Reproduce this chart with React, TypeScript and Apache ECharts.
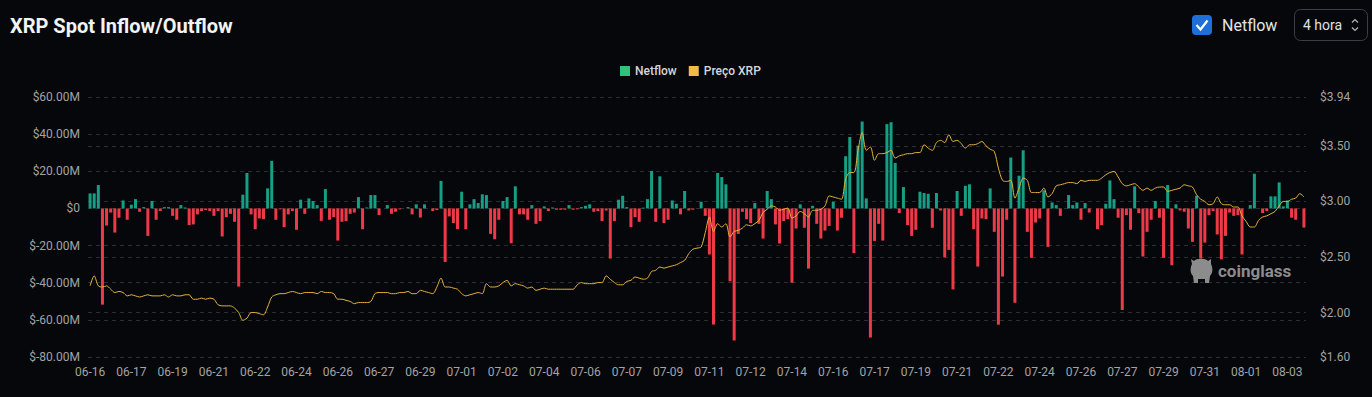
import React, { useEffect, useRef } from 'react';
import * as echarts from 'echarts';

// ---- categories: 4-hour candles from 06-16 00:00 ----
const START_UTC = Date.UTC(2025, 5, 16, 0, 0);
const STEP_HOURS = 4;
const BAR_COUNT = 295;
function makeCategories(): string[] {
  const out: string[] = [];
  for (let i = 0; i < BAR_COUNT; i++) {
    const d = new Date(START_UTC + i * STEP_HOURS * 3600 * 1000);
    const mm = String(d.getUTCMonth() + 1).padStart(2, '0');
    const dd = String(d.getUTCDate()).padStart(2, '0');
    out.push(`${mm}-${dd}`);
  }
  return out;
}
const categories = makeCategories();

// ---- Netflow (USD millions) ----
const netflowPart1 = [
  8.1, 8.1, 12.6, -51.8, -9.2, -2.2, -13, -5, 4.3, -6.1,
  2, 5, -1.8, 0.7, -14.8, 4, -6.1, -1.4, 0.7, 0.7,
  -4, -6.1, 1.8, 0.5, -9, -8.6, -3.2, -1.4, -0.9, -1.4,
  -4, -1.4, -15.1, -4.7, -2.9, -7.2, -42.1, 7.4, 19.1, -3.2,
  -11.2, -5.4, -5.8, 10.8, 25.6, -6.1, -0.5, -10.1, -3.2, -1.4,
  -11.5, 4.7, -2.9, 5.4, 4, 1.8, -6.7, 10.4, -6.1, -4.7,
  -17.3, -7.2, -6.8, -2.9, -2.2, 6.1, -11.2, 0.5, 7.2, 7.2,
  -3.6, 0, 1.8, -2.9, -1.8,
];
const netflowPart2 = [
  -0.5, 0, 0.7, -3.2, 2.2, -4.9, 2.2, 0, -1.4, -0.9,
  14.8, -28.8, -4.3, -7.9, -11.2, 9, -11.2, 2.2, 5, 2.9,
  7.6, 7.2, -13.7, -16.6, -6.1, 4, 6.1, -18.7, 11.9, -3.2,
  -3.2, -6.1, 1.8, -8.3, -6.8, 1.1, -1.4, 0.5, -0.7, -0.7,
  -0.7, 1.8, -0.7, -0.5, 0.7, 1.4, 2.2, -1.8, -1.4, -6.8,
  -1.1, -27, -6.8, 4.7, 6.8, 0.7, -10.1, -4.7, -7.2, 0.4,
  5, 20.2, -7.2, 17.3, -7.9, -6.1, 4.3, 2.5, -3.2, 9.4,
  -1.1, -0.7, 0,
];
const netflowPart3 = [
  3.6, -4, -24.8, -62.5, 19.1, 16.9, 13, -39.2, -71.1, -13.7,
  -1.8, -5.8, -7.9, 2.9, -8.3, -16.2, 9.4, 5, -8.6, -18.9,
  -6.8, -5.8, -40, -10.8, 2.2, -10.4, -32.4, 1.4, -8.3, -16.2,
  -11.9, -9.4, 3.6, -11.9, -5, 28.1, 38.5, -24.1, 33.8, 46.8,
  5.4, -69.5, -17.5, -8.3, -17.3, 45.4, 46.4, 24.5, -2.5, 11.5,
  -9, -14.8, -11.5, 9, 8.3, 7.9, -10.4, 8.3, -1.1, -26.3,
  -22.3, -43.6, 9.4, -4, 12.2, 13, -11.2, -31.3, -5.4, -5.8,
  10.8, -12.6, -62.6, -36.7, -6.1, 27.4, -50.8, 17.6,
];
const netflowPart4 = [
  31.3, -12.6, -26.6, -7.6, -5.4, 9.7, -20.7, 3.2, 1.8, -4,
  0, 7.2, 1.8, 3.2, -6.1, 2.9, -2.2, 0, -11.2, -9,
  2.5, 15.1, 5, -5, -54.7, -3.6, -11.5, 11.9, -2.5, -25.9,
  -12.6, -6.1, 4, -5, -26.6, 12.6, -30.6, 2.2, -1.1, -1.8,
  -10.8, -18, 6.8, -27, -18.4, -3.6, -1.4, -14, -27.4, -14.8,
  -2.2, -4, -3.6, -24.8, 0, 1.8, 18.7, 0, -2.5, -1.4,
  6.5, 6.5, 14, 1.1, 4.3, -5, -6.1, 0, -10.3,
];
const netflowMillions = [...netflowPart1, ...netflowPart2, ...netflowPart3, ...netflowPart4];

// ---- XRP price (USD) ----
const pricePart1 = [
  2.24, 2.33, 2.24, 2.23, 2.24, 2.21, 2.18, 2.19, 2.18, 2.15,
  2.16, 2.15, 2.14, 2.15, 2.16, 2.15, 2.15, 2.15, 2.16, 2.14,
  2.16, 2.15, 2.15, 2.16, 2.16, 2.12, 2.12, 2.13, 2.12, 2.13,
  2.12, 2.07, 2.06, 2.06, 2.06, 2.04, 2.00, 1.93, 1.95, 2.00,
  2.00, 1.99, 1.98, 2.05, 2.14, 2.16, 2.17, 2.17, 2.18, 2.19,
  2.18, 2.17, 2.18, 2.18, 2.18, 2.17, 2.19, 2.18, 2.18, 2.17,
  2.12, 2.12, 2.11, 2.10, 2.08, 2.09, 2.09, 2.09, 2.10, 2.17,
  2.18, 2.18, 2.18, 2.17, 2.17, 2.18, 2.18, 2.19, 2.17, 2.17,
  2.20, 2.19, 2.18, 2.17, 2.23, 2.31, 2.23, 2.23, 2.22, 2.21,
  2.17, 2.15, 2.16, 2.17, 2.18, 2.17, 2.26, 2.23, 2.23, 2.24,
];
const pricePart2 = [
  2.27, 2.29, 2.24, 2.26, 2.25, 2.24, 2.22, 2.23, 2.20, 2.21,
  2.22, 2.21, 2.21, 2.21, 2.21, 2.21, 2.21, 2.21, 2.25, 2.27,
  2.26, 2.26, 2.26, 2.27, 2.27, 2.33, 2.30, 2.27, 2.25, 2.25,
  2.28, 2.29, 2.32, 2.31, 2.30, 2.31, 2.37, 2.38, 2.41, 2.40,
  2.41, 2.42, 2.43, 2.45, 2.47, 2.53, 2.57, 2.58, 2.59, 2.72,
  2.86, 2.73, 2.80, 2.77, 2.80, 2.68, 2.73, 2.74, 2.76, 2.79,
  2.78, 2.80, 2.83, 2.90, 2.93, 2.96, 2.95, 2.92, 2.93, 2.94,
  2.85, 2.87, 2.91, 2.89, 2.86, 2.92, 2.92, 2.93, 2.96, 3.05,
  3.04, 3.03, 3.02, 3.20, 3.26, 3.26, 3.46, 3.62, 3.46, 3.49,
  3.37, 3.43, 3.43, 3.44, 3.46, 3.39, 3.41, 3.42, 3.43, 3.43,
];
const pricePart3 = [
  3.44, 3.44, 3.51, 3.48, 3.46, 3.53, 3.55, 3.53, 3.60, 3.54,
  3.55, 3.52, 3.48, 3.51, 3.51, 3.52, 3.54, 3.50, 3.47, 3.45,
  3.30, 3.19, 3.18, 3.19, 3.03, 3.12, 3.21, 3.19, 3.08, 3.08,
  3.08, 3.12, 3.04, 3.07, 3.14, 3.15, 3.16, 3.17, 3.17, 3.16,
  3.19, 3.18, 3.19, 3.19, 3.19, 3.21, 3.24, 3.26, 3.27, 3.22,
  3.16, 3.14, 3.15, 3.16, 3.13, 3.10, 3.12, 3.10, 3.12, 3.13,
  3.13, 3.09, 3.10, 3.11, 3.12, 3.15, 3.14, 3.13, 3.06, 3.02,
  3.00, 2.97, 2.98, 3.04, 2.98, 2.97, 2.97, 2.95, 2.95, 2.87,
  2.82, 2.77, 2.77, 2.83, 2.86, 2.87, 2.89, 2.91, 2.96, 3.00,
  3.00, 3.02, 3.03, 3.07, 3.04,
];
const priceXrp = [...pricePart1, ...pricePart2, ...pricePart3];

// ---- axes ----
const LEFT_MIN = -80e6;
const LEFT_MAX = 60e6;
const LEFT_INTERVAL = 20e6;
const RIGHT_MIN = 1.6;
const RIGHT_MAX = 3.94;

const GREEN_BAR = '#169f84';
const RED_BAR = '#ee3a48';
const LEGEND_GREEN = '#2fc27d';
const LINE_YELLOW = '#e6b23d';
const LEGEND_YELLOW = '#f0bb47';

const LOGO_D =
  'M4 3 C6 0 16 0 18 3 L21 1 L21 6 C23 10 23 15 20 18 L19 25 L15 25 L15 21 L8 21 L8 25 L4 25 L3 18 C0 15 0 10 2 6 L1 1 Z';

export default function App() {
  const ref = useRef<HTMLDivElement>(null);

  useEffect(() => {
    if (!ref.current) return;
    try {
      echarts.graphic.registerShape('logo', echarts.graphic.extendPath(LOGO_D, {}));
    } catch (e) {
      /* already registered */
    }
    const chart = echarts.init(ref.current, undefined, { renderer: 'svg' });
    const font = 'Roboto, "Noto Sans", sans-serif';

    chart.setOption({
      animation: false,
      backgroundColor: '#05070b',
      title: {
        text: 'XRP Spot Inflow/Outflow',
        left: 5,
        top: 11,
        textStyle: { color: '#f2f3f5', fontSize: 20, fontWeight: 'bold', fontFamily: font },
      },
      legend: {
        left: 615,
        top: 60,
        itemWidth: 10,
        itemHeight: 10,
        itemGap: 12,
        icon: 'rect',
        textStyle: { color: '#d6d6d6', fontSize: 12, fontWeight: 500, fontFamily: font },
        data: [
          { name: 'Netflow', itemStyle: { color: LEGEND_GREEN } },
          { name: 'Preço XRP', itemStyle: { color: LEGEND_YELLOW } },
        ],
      },
      grid: { left: 88, right: 66, top: 97, bottom: 40, containLabel: false },
      xAxis: {
        type: 'category',
        data: categories,
        boundaryGap: true,
        axisLine: { show: false },
        axisTick: { show: false },
        axisLabel: {
          interval: 9,
          color: '#a3a3a3',
          fontSize: 12,
          fontFamily: font,
          margin: 9,
        },
        splitLine: { show: false },
      },
      yAxis: [
        {
          type: 'value',
          min: LEFT_MIN,
          max: LEFT_MAX,
          interval: LEFT_INTERVAL,
          axisLine: { show: false },
          axisTick: { show: false },
          axisLabel: {
            color: '#a3a3a3',
            fontSize: 12,
            fontFamily: font,
            margin: 8,
            formatter: (v: number) => (v === 0 ? '$0' : '$' + (v / 1e6).toFixed(2) + 'M'),
          },
          splitLine: { lineStyle: { color: '#2a2d34', type: [4, 4], width: 1 } },
        },
        {
          type: 'value',
          min: RIGHT_MIN,
          max: RIGHT_MAX,
          position: 'right',
          axisLine: { show: false },
          axisTick: { show: false },
          axisLabel: {
            color: '#a3a3a3',
            fontSize: 12,
            fontFamily: font,
            margin: 14,
            formatter: (v: number) => '$' + v.toFixed(2),
          },
          splitLine: { lineStyle: { color: '#2a2d34', type: [4, 4], width: 1 } },
        },
      ],
      series: [
        {
          name: 'Netflow',
          type: 'bar',
          yAxisIndex: 0,
          barWidth: 3,
          data: netflowMillions.map((v) => ({
            value: v * 1e6,
            itemStyle: { color: v >= 0 ? GREEN_BAR : RED_BAR },
          })),
        },
        {
          name: 'Preço XRP',
          type: 'line',
          yAxisIndex: 1,
          data: priceXrp,
          showSymbol: false,
          smooth: 0.3,
          lineStyle: { color: LINE_YELLOW, width: 1 },
          itemStyle: { color: LEGEND_YELLOW },
          z: 3,
        },
      ],
      graphic: [
        // checkbox
        {
          type: 'rect',
          shape: { x: 1192, y: 15, width: 20, height: 20, r: 4 },
          style: { fill: '#1f6fd8' },
        },
        {
          type: 'polyline',
          shape: { points: [[1196.5, 25], [1200.5, 29.5], [1207.5, 20.5]] },
          style: { stroke: '#ffffff', lineWidth: 2.2, fill: 'none' },
        },
        {
          type: 'text',
          x: 1222,
          y: 25,
          style: {
            text: 'Netflow',
            fill: '#e4e4e4',
            font: `16px ${font}`,
            verticalAlign: 'middle',
          },
        },
        // select box
        {
          type: 'rect',
          shape: { x: 1294.5, y: 9.5, width: 73, height: 31, r: 6 },
          style: { fill: 'none', stroke: '#3b3e45', lineWidth: 1 },
        },
        {
          type: 'text',
          x: 1303,
          y: 25,
          style: {
            text: '4 hora',
            fill: '#e0e0e0',
            font: `14px ${font}`,
            verticalAlign: 'middle',
          },
        },
        {
          type: 'polyline',
          shape: { points: [[1352, 22.5], [1355, 19.5], [1358, 22.5]] },
          style: { stroke: '#b5b5b5', lineWidth: 1.2, fill: 'none' },
        },
        {
          type: 'polyline',
          shape: { points: [[1352, 27.5], [1355, 30.5], [1358, 27.5]] },
          style: { stroke: '#b5b5b5', lineWidth: 1.2, fill: 'none' },
        },
        // watermark
        {
          type: 'logo',
          x: 1190,
          y: 258,
          scaleX: 1,
          scaleY: 1,
          style: { fill: '#8c8c8c' },
          z: 10,
        },
        {
          type: 'text',
          x: 1218,
          y: 271,
          style: {
            text: 'coinglass',
            fill: '#8c8c8c',
            font: `bold 17px ${font}`,
            verticalAlign: 'middle',
          },
          z: 10,
        },
      ],
    });

    return () => {
      chart.dispose();
    };
  }, []);

  return (
    <div
      style={{
        position: 'fixed',
        left: 0,
        top: 0,
        width: 1372,
        height: 397,
        background: '#05070b',
      }}
    >
      <div ref={ref} style={{ width: 1372, height: 397 }} />
    </div>
  );
}
